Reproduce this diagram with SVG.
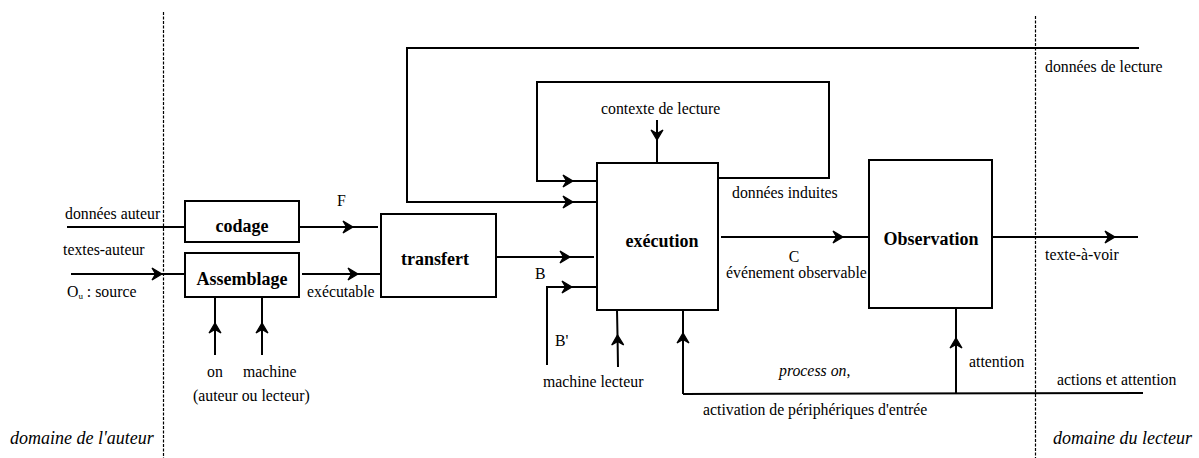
<svg xmlns="http://www.w3.org/2000/svg" width="1199" height="458" viewBox="0 0 1199 458">
<style>
text{font-family:"Liberation Serif","Times New Roman",serif;font-size:15.8px;fill:#000}
.b{font-weight:bold;font-size:18px;text-anchor:middle}
.i{font-style:italic}
.d{font-style:italic;font-size:18px}
.box{fill:#fff;stroke:#000;stroke-width:2}
.ln{fill:none;stroke:#000;stroke-width:2}
.ar{fill:none;stroke:#000;stroke-width:2;marker-mid:url(#a)}
.dash{stroke:#000;stroke-width:1.2;stroke-dasharray:3 1.5;fill:none}
</style>
<defs>
<marker id="a" viewBox="-12 -8 14 16" refX="0" refY="0" markerWidth="14" markerHeight="16" orient="auto" markerUnits="userSpaceOnUse">
<path d="M-10,-6 L0,0 L-10,6 L-6.5,0 z" fill="#000" stroke="#000" stroke-width="1.2" stroke-linejoin="miter"/>
</marker>
</defs>
<rect width="1199" height="458" fill="#fff"/>
<g id="domains">
<line class="dash" x1="163.5" y1="12" x2="163.5" y2="458"/>
<line class="dash" x1="1035.5" y1="16" x2="1035.5" y2="458"/>
<text class="d" x="10" y="444">domaine de l'auteur</text>
<text class="d" x="1053" y="444">domaine du lecteur</text>
</g>
<g id="connectors">
<path class="ln" d="M67,227 L185,227"/>
<path class="ar" d="M71,274 L162,274 L185,274"/>
<path class="ar" d="M299,227 L353,227 L378,227"/>
<path class="ar" d="M302,274 L358,274 L381,274"/>
<path class="ar" d="M215,355 L215,323 L215,297"/>
<path class="ar" d="M262,355 L262,323 L262,297"/>
<path class="ar" d="M496,257 L570,257 L594,257"/>
<path class="ln" d="M547,365 L547,287 L560,287"/>
<path class="ar" d="M547,287 L572,287 L597,287"/>
<path class="ln" d="M1139,48 L407,48 L407,202 L420,202"/>
<path class="ar" d="M407,202 L573,202 L597,202"/>
<path class="ln" d="M718,178 L829,178 L829,82 L537,82 L537,181 L550,181"/>
<path class="ar" d="M537,181 L573,181 L597,181"/>
<path class="ar" d="M657,120 L657,140 L657,163"/>
<path class="ar" d="M618,367 L617.5,335 L617,310"/>
<path class="ar" d="M721,237 L843,237 L869,237"/>
<path class="ar" d="M992,237 L1115,237 L1138,237"/>
<path class="ln" d="M683,394 L1143,393"/>
<path class="ar" d="M683,394 L683,333 L683,310"/>
<path class="ar" d="M956,393 L956,338 L956,308"/>
</g>
<g id="codage">
<rect class="box" x="185" y="201" width="114" height="41"/>
<text class="b" x="242" y="232">codage</text>
</g>
<g id="assemblage">
<rect class="box" x="185" y="253" width="114" height="44"/>
<text class="b" x="242" y="285">Assemblage</text>
</g>
<g id="transfert">
<rect class="box" x="381" y="214" width="115" height="83"/>
<text class="b" x="435" y="265">transfert</text>
</g>
<g id="execution">
<rect class="box" x="597" y="163" width="121" height="147"/>
<text class="b" x="662" y="247">exécution</text>
</g>
<g id="observation">
<rect class="box" x="869" y="160" width="123" height="148"/>
<text class="b" x="931" y="245">Observation</text>
</g>
<g id="labels">
<text x="65" y="219">données auteur</text>
<text x="63" y="255">textes-auteur</text>
<text x="67" y="297">O<tspan font-size="9" dy="2">u</tspan><tspan dy="-2"> : source</tspan></text>
<text x="337" y="206" font-size="13.5">F</text>
<text x="307" y="297">exécutable</text>
<text x="215" y="377" text-anchor="middle">on</text>
<text x="243" y="377">machine</text>
<text x="193" y="401">(auteur ou lecteur)</text>
<text x="601" y="114">contexte de lecture</text>
<text x="732" y="198">données induites</text>
<text x="535" y="279">B</text>
<text x="555" y="346">B'</text>
<text x="543" y="387">machine lecteur</text>
<text x="794" y="262" text-anchor="middle">C</text>
<text x="726" y="278">événement observable</text>
<text x="779" y="376"><tspan class="i">process on</tspan>,</text>
<text x="703" y="415">activation de périphériques d'entrée</text>
<text x="969" y="367">attention</text>
<text x="1045" y="72">données de lecture</text>
<text x="1045" y="260">texte-à-voir</text>
<text x="1057" y="385">actions et attention</text>
</g>
</svg>
